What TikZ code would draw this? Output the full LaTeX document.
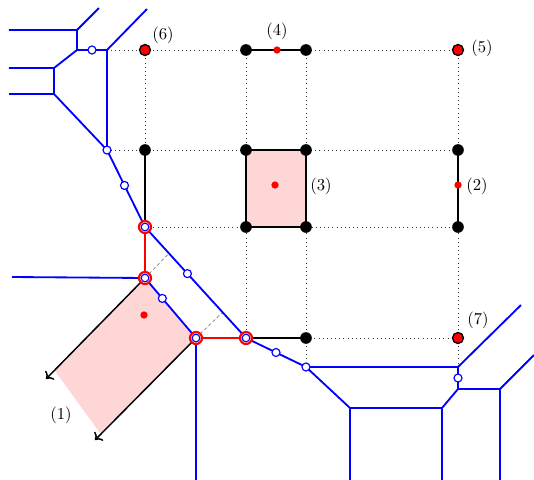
\documentclass[tikz,border=0pt]{standalone}
\usepackage{xcolor}
\usepackage{tikz}
\usetikzlibrary{arrows.meta,calc}

\begin{document}
\begin{tikzpicture}[x=0.6pt,y=-0.6pt,>=To,
  dotgrid/.style={dotted,black!80,line width=0.5pt},
  trop/.style={blue,line width=1.1pt},
  redge/.style={red,line width=1.4pt},
  bedge/.style={black,line width=0.9pt},
  vtx/.style={circle,fill=black,inner sep=0pt,minimum size=7pt},
  rvtx/.style={circle,fill=red,draw=black,line width=0.8pt,inner sep=0pt,minimum size=6.6pt},
  rpt/.style={circle,fill=red,inner sep=0pt,minimum size=4.4pt},
  hollow/.style={circle,draw=blue,fill=white,line width=0.7pt,inner sep=0pt,minimum size=4.8pt},
  ringed/.style={circle,draw=red,fill=white,line width=1.3pt,inner sep=0pt,minimum size=7.2pt,
    path picture={\draw[blue,line width=0.7pt] (path picture bounding box.center) circle (2.3pt);}}]
  \useasboundingbox (0,0) rectangle (534,480);

  % Grid points.
  \coordinate (g6) at (145,50);
  \coordinate (ga) at (246,50);
  \coordinate (gb) at (306,50);
  \coordinate (g5) at (458,50);
  \coordinate (gc) at (145,150);
  \coordinate (gd) at (246,150);
  \coordinate (ge) at (306,150);
  \coordinate (gf) at (458,150);
  \coordinate (gg) at (246,227);
  \coordinate (gh) at (306,227);
  \coordinate (gi) at (458,227);
  \coordinate (gj) at (306,338);
  \coordinate (g7) at (458,338);

  % Curve vertices and free ends.
  \coordinate (v1) at (77,30);
  \coordinate (v2) at (77,50);
  \coordinate (v3) at (107,50);
  \coordinate (v4) at (54,68);
  \coordinate (v5) at (54,94);
  \coordinate (v6) at (107,150);
  \coordinate (v7) at (145,227);
  \coordinate (v8) at (145,278);
  \coordinate (v9) at (196,338);
  \coordinate (v10) at (246,338);
  \coordinate (v11) at (306,367);
  \coordinate (v12) at (458,367);
  \coordinate (v13) at (458,389);
  \coordinate (v14) at (500,389);
  \coordinate (v15) at (442,408);
  \coordinate (v16) at (350,408);
  \coordinate (e1) at (9,30);
  \coordinate (e2) at (99,8);
  \coordinate (e3) at (147,9);
  \coordinate (e4) at (9,68);
  \coordinate (e5) at (9,94);
  \coordinate (e6) at (12,277);
  \coordinate (e7) at (196,480);
  \coordinate (e8) at (350,480);
  \coordinate (e9) at (442,480);
  \coordinate (e10) at (534,355);
  \coordinate (e11) at (500,480);
  \coordinate (e12) at (521,305);

  % Region (1).
  \coordinate (p3) at (100,433);
  \coordinate (p4) at (55,371);
  \coordinate (t1) at (46,379);
  \coordinate (t2) at (95,440);
  \coordinate (x1) at ($(v7)!0.237!(v10)$);
  \coordinate (x2) at ($(v7)!0.768!(v10)$);

  \fill[red!16] (v8) -- (v9) -- (p3) -- (p4) -- cycle;
  \fill[red!16] (gd) rectangle (gh);

  % Dotted grid.
  \draw[dotgrid] (v3) -- (g5);
  \draw[dotgrid] (v6) -- (gf);
  \draw[dotgrid] (v7) -- (gi);
  \draw[dotgrid] (gj) -- (g7);
  \draw[dotgrid] (g6) -- (gc);
  \draw[dotgrid] (ga) -- (v10);
  \draw[dotgrid] (gb) -- (v11);
  \draw[dotgrid] (g5) -- (v12);
  \draw[gray,dash pattern=on 2pt off 1.5pt,line width=0.4pt] (v8) -- (x1);
  \draw[gray,dash pattern=on 2pt off 1.5pt,line width=0.4pt] (v9) -- (x2);

  % Tropical curve.
  \draw[trop] (e1) -- (v1) -- (e2);
  \draw[trop] (v1) -- (v2) -- (v3) -- (e3);
  \draw[trop] (v3) -- (v6);
  \draw[trop] (v2) -- (v4) -- (e4);
  \draw[trop] (v4) -- (v5) -- (e5);
  \draw[trop] (v5) -- (v6) -- (v7) -- (v10) -- (v11) -- (v12) -- (e12);
  \draw[trop] (v7) -- (v8) -- (v9) -- (v10);
  \draw[trop] (e6) -- (v8);
  \draw[trop] (v9) -- (e7);
  \draw[trop] (v11) -- (v16) -- (v15) -- (v13) -- (v12);
  \draw[trop] (v16) -- (e8);
  \draw[trop] (v15) -- (e9);
  \draw[trop] (v13) -- (v14) -- (e10);
  \draw[trop] (v14) -- (e11);
  \draw[redge] (v7) -- (v8);
  \draw[redge] (v9) -- (v10);

  % Black cells.
  \draw[bedge] (ga) -- (gb);
  \draw[bedge] (gc) -- (v7);
  \draw[bedge] (gd) rectangle (gh);
  \draw[bedge] (gf) -- (gi);
  \draw[bedge] (v10) -- (gj);
  \draw[bedge,->] (v8) -- (t1);
  \draw[bedge,->] (v9) -- (t2);

  % Markers.
  \foreach \p in {ga,gb,gc,gd,ge,gf,gg,gh,gi,gj}
    \node[vtx] (m-\p) at (\p) {};
  \foreach \p in {g6,g5,g7}
    \node[rvtx] (m-\p) at (\p) {};
  \node[rpt] (r1) at (144,315) {};
  \node[rpt] (r2) at (458,185) {};
  \node[rpt] (r3) at (275,185) {};
  \node[rpt] (r4) at (277,50) {};
  \node[hollow] (h1) at ($(v2)!0.5!(v3)$) {};
  \node[hollow] (h2) at (v6) {};
  \node[hollow] (h3) at ($(v6)!0.46!(v7)$) {};
  \node[hollow] (h4) at ($(v7)!0.42!(v10)$) {};
  \node[hollow] (h5) at ($(v8)!0.34!(v9)$) {};
  \node[hollow] (h6) at ($(v10)!0.5!(v11)$) {};
  \node[hollow] (h7) at (v11) {};
  \node[hollow] (h8) at ($(v12)!0.5!(v13)$) {};
  \foreach \p in {v7,v8,v9,v10}
    \node[ringed] (m-\p) at (\p) {};

  % Labels.
  \node (l1) at (61,415) {(1)};
  \node (l2) at (477,186) {(2)};
  \node (l3) at (321,186) {(3)};
  \node (l4) at (277,31) {(4)};
  \node (l5) at (482,48) {(5)};
  \node (l6) at (163,35) {(6)};
  \node (l7) at (478,320) {(7)};
\end{tikzpicture}
\end{document}
